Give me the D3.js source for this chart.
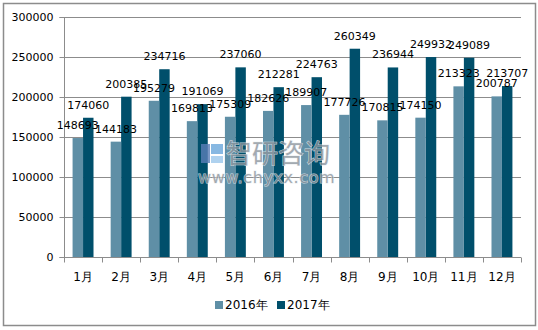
<!DOCTYPE html>
<html><head><meta charset="utf-8">
<script src="https://cdn.jsdelivr.net/npm/d3@7/dist/d3.min.js"></script>
<style>body{margin:0;background:#fff}svg{display:block}</style>
</head><body>
<script>
const months = ["1月","2月","3月","4月","5月","6月","7月","8月","9月","10月","11月","12月"];
const series2016 = [148693,144183,195279,169813,175309,182626,189907,177726,170815,174150,213323,200787];
const series2017 = [174060,200385,234716,191069,237060,212281,224763,260349,236944,249932,249089,213707];
const seriesNames = ["2016年","2017年"];
const yTicks = [0,50000,100000,150000,200000,250000,300000];
const colors = ["#5f8fa6","#004f6b"];

const W=538,H=330;
const svg=d3.select("body").append("svg").attr("width",W).attr("height",H);
svg.append("rect").attr("x",3.5).attr("y",3.5).attr("width",532).attr("height",322)
  .attr("fill","#fff").attr("stroke","#8c8c8c").attr("stroke-width",1.5);

const L=64,R=521,T=17,B=257;
const x=d3.scaleBand().domain(months).range([L,R]).paddingInner(0).paddingOuter(0);
const y=d3.scaleLinear().domain([0,300000]).range([B,T]);
const inner=d3.scaleBand().domain([0,1]).range([0,x.bandwidth()]).paddingOuter(0.82).paddingInner(0);

const font="DejaVu Sans, Verdana, sans-serif";
// grid
svg.append("g").selectAll("line").data(yTicks.filter(d=>d>0)).join("line")
  .attr("x1",L).attr("x2",R).attr("y1",d=>Math.round(y(d))+0.5).attr("y2",d=>Math.round(y(d))+0.5)
  .attr("stroke","#8c8c8c").attr("stroke-width",1);

// y axis
const ya=svg.append("g").attr("transform",`translate(${L+0.5},0)`)
  .call(d3.axisLeft(y).tickValues(yTicks).tickSize(5).tickFormat(d=>d));
ya.select(".domain").attr("stroke","#8c8c8c").attr("d",`M-5,${T+0.5}H0V${B+0.5}H-5`);
ya.selectAll(".tick line").attr("stroke","#8c8c8c");
ya.selectAll(".tick text").attr("font-family",font).attr("font-size",11).attr("fill","#000").attr("dx",-3);

// x axis
const xa=svg.append("g").attr("transform",`translate(0,${B+0.5})`);
xa.append("line").attr("x1",L).attr("x2",R).attr("stroke","#8c8c8c");
const bounds=months.map(m=>x(m)).concat([R]);
xa.selectAll("line.t").data(bounds).join("line").attr("class","t")
  .attr("x1",d=>Math.round(d)+0.5).attr("x2",d=>Math.round(d)+0.5).attr("y1",0).attr("y2",5).attr("stroke","#8c8c8c");
xa.selectAll("text").data(months).join("text")
  .attr("x",d=>x(d)+x.bandwidth()/2).attr("y",23).attr("text-anchor","middle")
  .attr("font-family",font).attr("font-size",12).attr("fill","#000").text(d=>d);

// bars
const data=[series2016,series2017];
const g=svg.append("g");
data.forEach((s,i)=>{
  g.selectAll(null).data(s).join("rect")
    .attr("x",(d,j)=>x(months[j])+inner(i)).attr("width",inner.bandwidth())
    .attr("y",d=>y(d)).attr("height",d=>B-y(d)).attr("fill",colors[i]);
});

// watermark (on top of bars)
const wm=svg.append("g").attr("opacity",0.8);
wm.append("rect").attr("x",201).attr("y",144).attr("width",9).attr("height",19).attr("fill","#5b7fb8");
wm.append("rect").attr("x",211).attr("y",144).attr("width",12).attr("height",10).attr("fill","#6aa7dc");
wm.append("rect").attr("x",211).attr("y",156).attr("width",12).attr("height",7).attr("fill","#9cc8ec");
wm.append("text").attr("x",226).attr("y",163).attr("font-family","Noto Sans CJK SC").attr("font-size",26)
  .attr("fill","#8d969e").attr("stroke","#e8ecef").attr("stroke-width",1).attr("paint-order","stroke").text("智研咨询");
wm.append("text").attr("x",198).attr("y",183).attr("font-family",font).attr("font-size",16).attr("letter-spacing",0.6)
  .attr("fill","#8d969e").attr("stroke","#e8ecef").attr("stroke-width",1).attr("paint-order","stroke").text("www.chyxx.com");

// labels
data.forEach((s,i)=>{
  g.selectAll(null).data(s).join("text")
    .attr("x",(d,j)=>x(months[j])+inner(i)+inner.bandwidth()/2).attr("y",d=>y(d)-9)
    .attr("text-anchor","middle").attr("font-family",font).attr("font-size",11).attr("fill","#000").text(d=>d);
});
g.raise();
g.selectAll("rect").lower();
wm.raise();
g.selectAll("text").raise();

// legend
const lg=svg.append("g");
[[215,"2016年"],[277,"2017年"]].forEach(([lx,t],i)=>{
  lg.append("rect").attr("x",lx).attr("y",301).attr("width",8).attr("height",8).attr("fill",colors[i]);
  lg.append("text").attr("x",lx+10).attr("y",309).attr("font-family",font).attr("font-size",12).attr("fill","#000").text(seriesNames[i]);
});
</script>
</body></html>
